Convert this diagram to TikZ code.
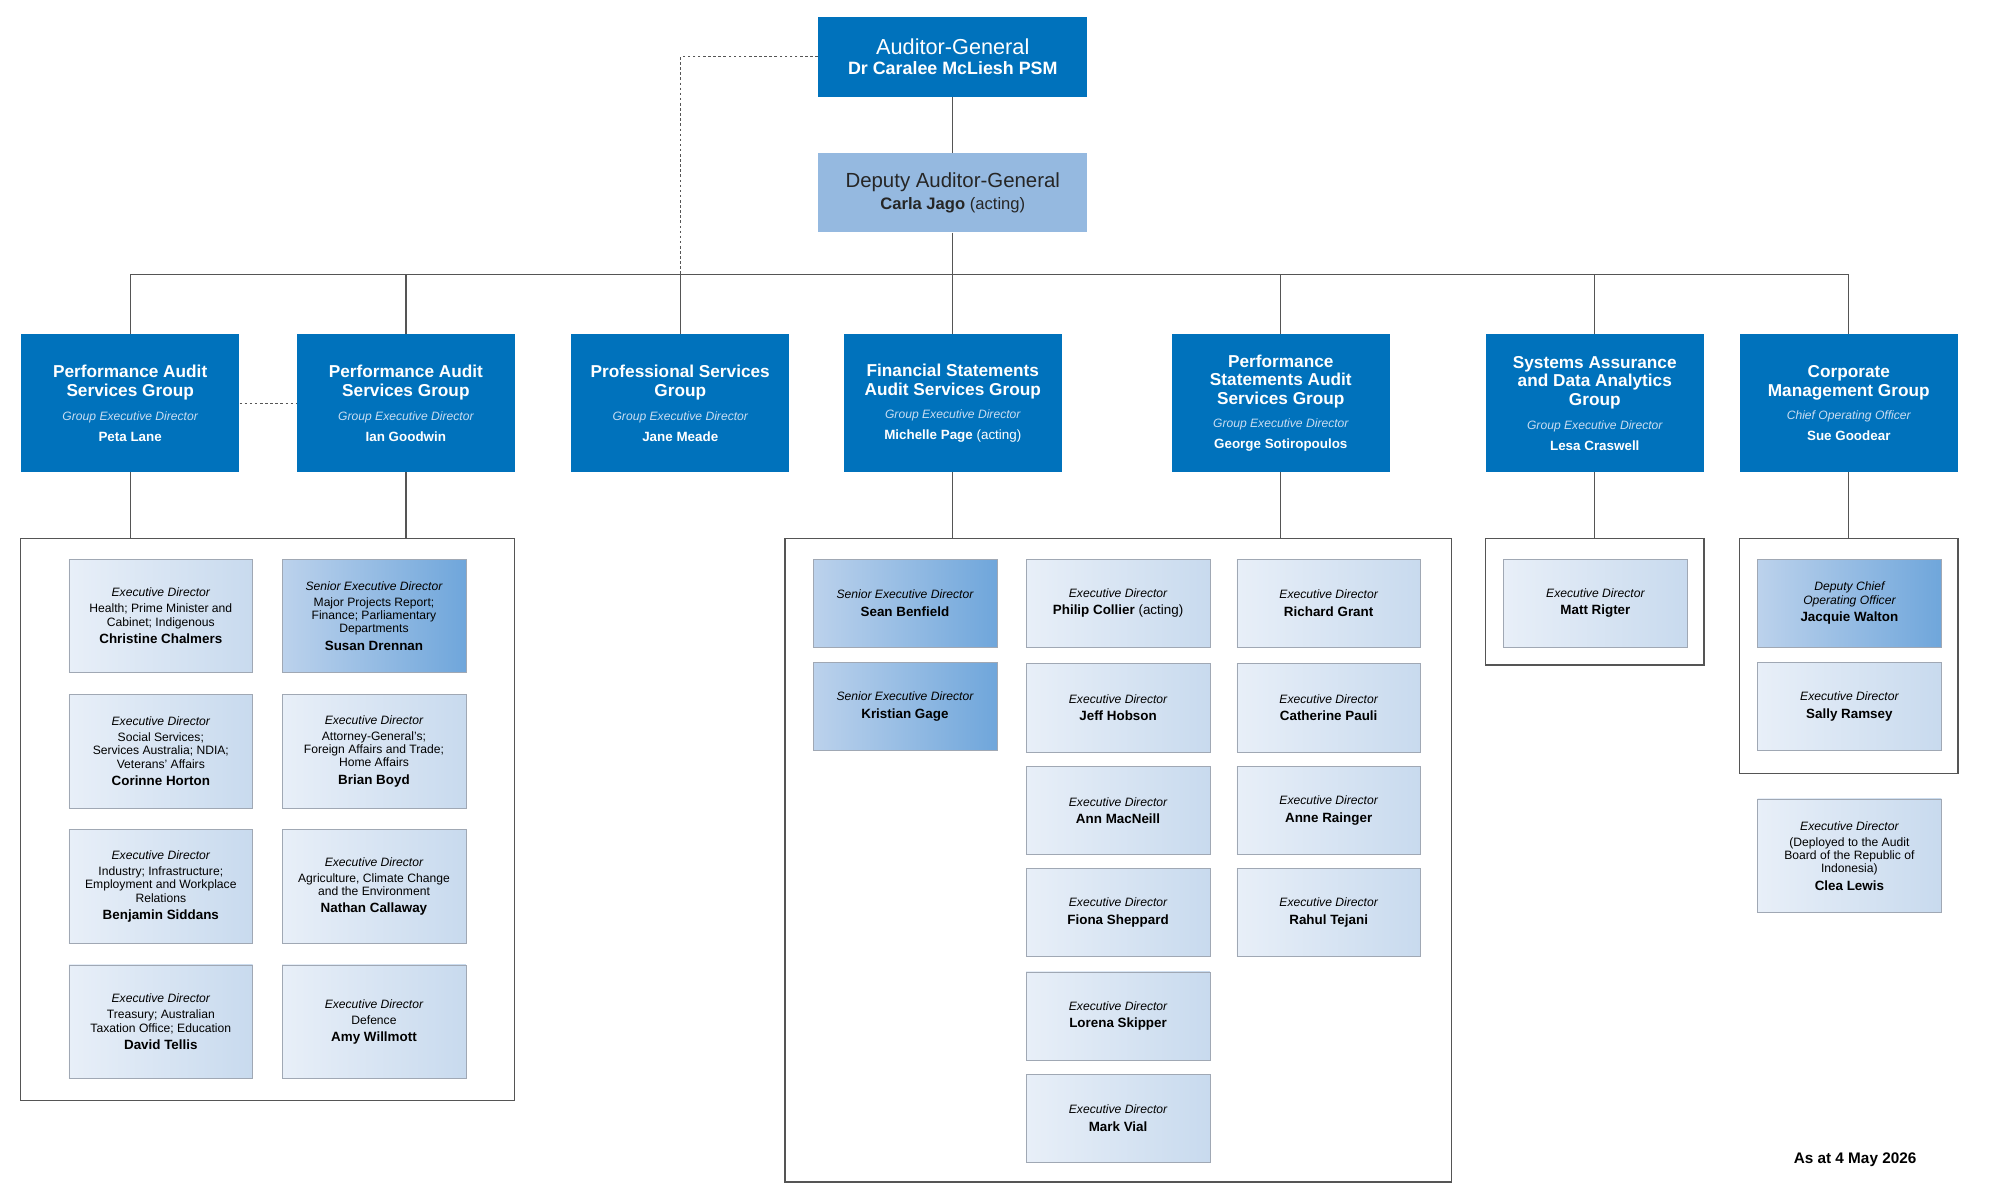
\documentclass[tikz,border=0pt]{standalone}
\usepackage{fontspec}
\setmainfont{Liberation Sans}
\definecolor{anao}{HTML}{0072BC}
\definecolor{dag}{HTML}{95B9E0}
\definecolor{lnc}{HTML}{555555}
\definecolor{bdr}{HTML}{A0A8B4}
\definecolor{lL}{HTML}{E8EFF8}
\definecolor{lR}{HTML}{C8DAEE}
\definecolor{dL}{HTML}{BCD2EC}
\definecolor{dR}{HTML}{6FA6DB}
\definecolor{sub}{HTML}{C8DDF2}
\begin{document}
\begin{tikzpicture}[x=1pt,y=-1pt,
 grp/.style={fill=anao,text=white,align=center,minimum width=171pt,minimum height=108pt,inner sep=2pt,font=\fontsize{13.5}{14.5}\selectfont\bfseries},
 lite/.style={draw=bdr,left color=lL,right color=lR,align=center,minimum width=144pt,inner sep=2pt,font=\fontsize{9.5}{10.5}\selectfont},
 dark/.style={draw=bdr,left color=dL,right color=dR,align=center,minimum width=144pt,inner sep=2pt,font=\fontsize{9.5}{10.5}\selectfont},
 ln/.style={draw=lnc,line width=1pt},
 cont/.style={draw=lnc,line width=1pt},
 dsh/.style={draw=lnc,line width=0.8pt,dash pattern=on 2pt off 2pt}]
\newcommand\gi[1]{{\fontsize{9.5}{11}\selectfont\mdseries\itshape\color{sub}#1}}
\newcommand\gn[1]{{\fontsize{10.5}{12}\selectfont\bfseries #1}}
\newcommand\ri[1]{{\itshape #1}}
\newcommand\nm[1]{{\fontsize{10.5}{12}\selectfont\bfseries #1}}
\useasboundingbox (0,0) rectangle (1567,942);
% top
\node[fill=anao,text=white,minimum width=211pt,minimum height=63pt,align=center] (ag) at (746.5,44.5)
 {{\fontsize{17}{19}\selectfont Auditor-General}\\[4pt]{\fontsize{14}{16}\selectfont\bfseries Dr Caralee McLiesh PSM}};
\node[fill=dag,text=black!85,minimum width=211pt,minimum height=62pt,align=center] (dag) at (746.5,151)
 {{\fontsize{16}{18}\selectfont Deputy Auditor-General}\\[4pt]{\fontsize{13}{15}\selectfont\textbf{Carla Jago} (acting)}};
% groups
\node[grp] (g1) at (102,316) {Performance Audit\\Services Group\\[4pt]\gi{Group Executive Director}\\[2pt]\gn{Peta Lane}};
\node[grp] (g2) at (318,316) {Performance Audit\\Services Group\\[4pt]\gi{Group Executive Director}\\[2pt]\gn{Ian Goodwin}};
\node[grp] (g3) at (533,316) {Professional Services\\Group\\[4pt]\gi{Group Executive Director}\\[2pt]\gn{Jane Meade}};
\node[grp] (g4) at (746.5,316) {Financial Statements\\Audit Services Group\\[4pt]\gi{Group Executive Director}\\[2pt]{\fontsize{10.5}{12}\selectfont Michelle Page \mdseries(acting)}};
\node[grp] (g5) at (1003.5,316) {Performance\\Statements Audit\\Services Group\\[4pt]\gi{Group Executive Director}\\[2pt]\gn{George Sotiropoulos}};
\node[grp] (g6) at (1249.5,316) {Systems Assurance\\and Data Analytics\\Group\\[4pt]\gi{Group Executive Director}\\[2pt]\gn{Lesa Craswell}};
\node[grp] (g7) at (1448.5,316) {Corporate\\Management Group\\[4pt]\gi{Chief Operating Officer}\\[2pt]\gn{Sue Goodear}};
% connectors
\coordinate (bl) at (102,215); \coordinate (br) at (1448.5,215);
\draw[ln] (ag) -- (dag);
\draw[ln] (dag) -- (746.5,215);
\draw[ln] (g1.north) -- (bl) -- (br) -- (g7.north);
\draw[ln] (g2.north) -- (318,215);
\draw[ln] (g3.north) -- (533,215);
\draw[ln] (g4.north) -- (746.5,215);
\draw[ln] (g5.north) -- (1003.5,215);
\draw[ln] (g6.north) -- (1249.5,215);
\draw[dsh] (ag.west) -| (533,215);
\draw[dsh] (g1.east) -- (g2.west);
% containers
\node[cont,minimum width=387pt,minimum height=440pt] (c1) at (209.5,642) {};
\node[cont,minimum width=522pt,minimum height=504pt] (c2) at (876,674) {};
\node[cont,minimum width=171pt,minimum height=99pt] (c3) at (1249.5,471.5) {};
\node[cont,minimum width=171pt,minimum height=184pt] (c4) at (1448.5,514) {};
\draw[ln] (g1.south) -- (g1.south |- c1.north);
\draw[ln] (g2.south) -- (g2.south |- c1.north);
\draw[ln] (g4.south) -- (g4.south |- c2.north);
\draw[ln] (g5.south) -- (g5.south |- c2.north);
\draw[ln] (g6.south) -- (c3.north);
\draw[ln] (g7.south) -- (c4.north);
% group 1 & 2 staff
\node[lite,minimum height=89pt] (p1) at (126,482.5) {\ri{Executive Director}\\[2pt]Health; Prime Minister and\\Cabinet; Indigenous\\[3pt]\nm{Christine Chalmers}};
\node[dark,minimum height=89pt] (p2) at (293,482.5) {\ri{Senior Executive Director}\\[2pt]Major Projects Report;\\Finance; Parliamentary\\Departments\\[3pt]\nm{Susan Drennan}};
\node[lite,minimum height=89pt] (p3) at (126,588.5) {\ri{Executive Director}\\[2pt]Social Services;\\Services Australia; NDIA;\\Veterans' Affairs\\[3pt]\nm{Corinne Horton}};
\node[lite,minimum height=89pt] (p4) at (293,588.5) {\ri{Executive Director}\\[2pt]Attorney-General's;\\Foreign Affairs and Trade;\\Home Affairs\\[3pt]\nm{Brian Boyd}};
\node[lite,minimum height=89pt] (p5) at (126,694.5) {\ri{Executive Director}\\[2pt]Industry; Infrastructure;\\Employment and Workplace\\Relations\\[3pt]\nm{Benjamin Siddans}};
\node[lite,minimum height=89pt] (p6) at (293,694.5) {\ri{Executive Director}\\[2pt]Agriculture, Climate Change\\and the Environment\\[3pt]\nm{Nathan Callaway}};
\node[lite,minimum height=89pt] (p7) at (126,800.5) {\ri{Executive Director}\\[2pt]Treasury; Australian\\Taxation Office; Education\\[3pt]\nm{David Tellis}};
\node[lite,minimum height=89pt] (p8) at (293,800.5) {\ri{Executive Director}\\[2pt]Defence\\[3pt]\nm{Amy Willmott}};
% FS / PS staff
\node[dark,minimum height=69pt] (f1) at (709,472.5) {\ri{Senior Executive Director}\\[3pt]\nm{Sean Benfield}};
\node[dark,minimum height=69pt] (f2) at (709,553.5) {\ri{Senior Executive Director}\\[3pt]\nm{Kristian Gage}};
\node[lite,minimum height=69pt] (f3) at (876,472.5) {\ri{Executive Director}\\[3pt]{\fontsize{10.5}{12}\selectfont\textbf{Philip Collier} (acting)}};
\node[lite,minimum height=69pt] (f4) at (876,554.5) {\ri{Executive Director}\\[3pt]\nm{Jeff Hobson}};
\node[lite,minimum height=69pt] (f5) at (876,635) {\ri{Executive Director}\\[3pt]\nm{Ann MacNeill}};
\node[lite,minimum height=69pt] (f6) at (876,715) {\ri{Executive Director}\\[3pt]\nm{Fiona Sheppard}};
\node[lite,minimum height=69pt] (f7) at (876,796) {\ri{Executive Director}\\[3pt]\nm{Lorena Skipper}};
\node[lite,minimum height=69pt] (f8) at (876,876) {\ri{Executive Director}\\[3pt]\nm{Mark Vial}};
\node[lite,minimum height=69pt] (f9) at (1041,472.5) {\ri{Executive Director}\\[3pt]\nm{Richard Grant}};
\node[lite,minimum height=69pt] (f10) at (1041,554.5) {\ri{Executive Director}\\[3pt]\nm{Catherine Pauli}};
\node[lite,minimum height=69pt] (f11) at (1041,635) {\ri{Executive Director}\\[3pt]\nm{Anne Rainger}};
\node[lite,minimum height=69pt] (f12) at (1041,715) {\ri{Executive Director}\\[3pt]\nm{Rahul Tejani}};
% systems & corporate
\node[lite,minimum height=69pt] (s1) at (1250,472.5) {\ri{Executive Director}\\[3pt]\nm{Matt Rigter}};
\node[dark,minimum height=69pt] (k1) at (1449,472.5) {\ri{Deputy Chief}\\\ri{Operating Officer}\\[3pt]\nm{Jacquie Walton}};
\node[lite,minimum height=69pt] (k2) at (1449,553.5) {\ri{Executive Director}\\[3pt]\nm{Sally Ramsey}};
\node[lite,minimum height=89pt] (k3) at (1449,670.5) {\ri{Executive Director}\\[2pt](Deployed to the Audit\\Board of the Republic of\\Indonesia)\\[3pt]\nm{Clea Lewis}};
\node[font=\fontsize{12}{14}\selectfont\bfseries,anchor=east] (date) at (1505,909) {As at 4 May 2026};
\end{tikzpicture}
\end{document}
